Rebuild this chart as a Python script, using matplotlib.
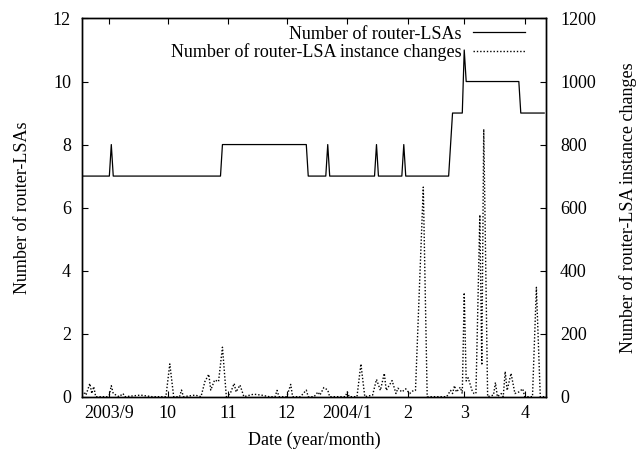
import matplotlib
matplotlib.use("Agg")
import matplotlib.pyplot as plt
import pandas as pd

plt.rcParams['font.family'] = ['Liberation Serif', 'DejaVu Serif']
plt.rcParams['font.size'] = 13

# Number of router-LSAs (breakpoints of daily series)
lsa_dates = ["2003-08-18", "2003-09-01", "2003-09-02", "2003-09-03", "2003-10-28", "2003-10-29",
             "2003-12-11", "2003-12-12", "2003-12-21", "2003-12-22", "2003-12-23",
             "2004-01-15", "2004-01-16", "2004-01-17", "2004-01-29", "2004-01-30", "2004-01-31",
             "2004-02-22", "2004-02-24", "2004-02-29", "2004-03-01", "2004-03-02",
             "2004-03-29", "2004-03-30", "2004-04-11"]
lsa_counts = [7, 7, 8, 7, 7, 8,
              8, 7, 7, 8, 7,
              7, 8, 7, 7, 8, 7,
              7, 9, 9, 11, 10,
              10, 9, 9]

# Number of router-LSA instance changes (day offset from 2003-08-18, value)
chg_days = [0, 1, 2, 4, 5, 6, 7, 13, 14, 15, 16, 19, 21, 22, 30, 36, 43, 45, 47, 50, 51, 52,
            58, 61, 63, 65, 66, 68, 70, 72, 74, 76, 78, 79, 81, 83, 88, 92, 96,
            99, 100, 101, 105, 107, 108, 112, 115, 116, 119, 121, 122, 124, 126, 127,
            130, 135, 136, 137, 141, 143, 145, 149, 151, 153, 155, 156, 159, 161, 162,
            164, 166, 168, 170, 171, 175, 177, 187, 189, 190, 191, 192, 194, 195,
            196, 197, 198, 200, 201, 202, 204, 205, 206, 208, 211, 212, 213, 215, 216,
            217, 218, 220, 222, 224, 226, 227, 231, 233, 235, 237]
chg_values = [10, 15, 5, 42, 10, 32, 0, 0, 5, 35, 10, 0, 10, 0, 5, 0, 0, 104, 0, 0, 21, 0,
              5, 0, 48, 71, 21, 53, 48, 157, 0, 10, 42, 15, 37, 0, 8, 5, 0,
              0, 20, 0, 0, 39, 0, 0, 21, 0, 0, 15, 5, 29, 21, 0,
              0, 0, 15, 0, 0, 104, 0, 5, 55, 20, 74, 20, 51, 10, 27,
              15, 25, 10, 20, 20, 665, 0, 0, 20, 10, 35, 15, 30, 10,
              330, 50, 60, 20, 10, 10, 577, 100, 849, 0, 5, 45, 0, 10, 0,
              80, 20, 74, 10, 15, 25, 0, 0, 347, 0, 0]

month_ticks = ["2003-09-01", "2003-10-01", "2003-11-01", "2003-12-01", "2004-01-01",
               "2004-02-01", "2004-03-01", "2004-04-01"]
month_labels = ["2003/9", "10", "11", "12", "2004/1", "2", "3", "4"]

base = pd.Timestamp("2003-08-18")
lsa_x = pd.to_datetime(lsa_dates)
chg_x = base + pd.to_timedelta(chg_days, unit="D")

fig = plt.figure(figsize=(6.41, 4.51), dpi=100)
ax = fig.add_axes([0.128, 0.1204, 0.724, 0.8386])
ax2 = ax.twinx()

l1, = ax.plot(lsa_x, lsa_counts, color="black", lw=0.9, label="Number of router-LSAs")
l2, = ax2.plot(chg_x, chg_values, color="black", lw=1.0, linestyle=(0, (1, 1.4)),
               label="Number of router-LSA instance changes")

ax.set_xlim(pd.Timestamp("2003-08-18"), pd.Timestamp("2004-04-12"))
ax.set_ylim(0, 12)
ax2.set_ylim(0, 1200)
ax.set_yticks(range(0, 13, 2))
ax2.set_yticks(range(0, 1201, 200))
ax.set_xticks(pd.to_datetime(month_ticks))
ax.set_xticklabels(month_labels)

ax.tick_params(axis="both", direction="in", length=4.5, width=0.8, top=True)
ax.tick_params(axis="y", pad=8)
ax.tick_params(axis="x", pad=6)
ax2.tick_params(axis="y", direction="in", length=4.5, width=0.8, pad=10)
for a in (ax, ax2):
    for s in a.spines.values():
        s.set_linewidth(1.0)

ax.set_ylabel("Number of router-LSAs", labelpad=16)
ax2.set_ylabel("Number of router-LSA instance changes", labelpad=17)
ax.set_xlabel("Date (year/month)", labelpad=7)

leg = ax2.legend(handles=[l1, l2], loc="upper right", bbox_to_anchor=(0.97, 1.0),
                 frameon=False, markerfirst=False, handlelength=2.9, handletextpad=0.6,
                 labelspacing=0.05, borderaxespad=0.2, borderpad=0.2)

fig.savefig("out.png", dpi=100)
